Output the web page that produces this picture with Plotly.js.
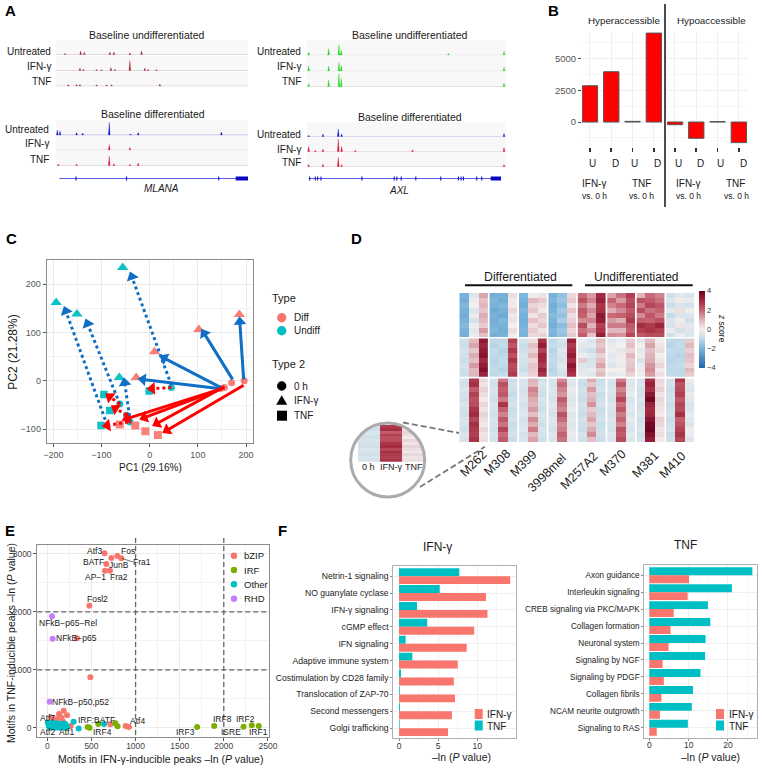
<!DOCTYPE html>
<html><head><meta charset="utf-8">
<script src="https://cdn.plot.ly/plotly-3.0.1.min.js"></script>
<style>html,body{margin:0;padding:0;background:#fff}#c{width:762px;height:769px}</style>
</head><body><div id="c"></div>
<script>
// ---------- Panel A: track peaks [position, height] ----------
const mlanaUndiffUntreated=[[195,.12],[242,.35],[253,.25],[330,.25],[342,.25],[390,.18],[425,.35]];
const mlanaUndiffIfn=[[240,.25],[250,.12],[290,.1],[305,.1],[333,.3],[345,.12],[390,1.0],[435,.25],[445,.12],[470,.1]];
const mlanaUndiffTnf=[[205,.15],[230,.15],[240,.15],[290,.12],[320,.12],[335,.12],[480,.2]];
const mlanaDiffUntreated=[[172,.5],[180,.4],[230,.25],[248,.2],[328,1.25],[392,.1],[415,.25],[665,.3]];
const mlanaDiffIfn=[[328,.55],[390,.25]];
const mlanaDiffTnf=[[175,.15],[230,.15],[328,.95],[342,.2],[390,.12],[415,.25]];
const axlUndiffUntreated=[[925,.3],[985,.65],[1016,1.05],[1023,.5],[1345,.15],[1512,.4]];
const axlUndiffIfn=[[925,.5],[985,.5],[1016,.9],[1023,.6],[1512,.4]];
const axlUndiffTnf=[[925,.3],[985,.65],[1016,1.3],[1023,.8],[1512,.35]];
const axlDiffUntreated=[[925,.12],[968,.25],[1014,.75],[1024,.25],[1512,.3]];
const axlDiffIfn=[[925,.5],[945,.12],[968,.25],[1014,1.25],[1024,.5],[1065,.12],[1237,.18],[1512,.4]];
const axlDiffTnf=[[925,.2],[968,.25],[1014,.9],[1024,.2],[1512,.2]];
const mlanaExons=[228,380,657];
const axlExons=[928,945,952,962,1085,1182,1190,1203,1247,1322,1375,1383,1390,1430,1445];
// ---------- Panel B ----------
const hyperValues=[2850,3950,50,6990];
const hypoValues=[-210,-1280,30,-1620];
// ---------- Panel C ----------
const diffTriX=[186,102,10,-28], diffTriY=[137,106,60,7];
const undiffTriX=[-56,-194,-151,-63], undiffTriY=[234,162,138,7];
const diffCircX=[196,170,155,147], diffCircY=[0,-4,-14,-16];
const undiffCircX=[45,-62,-48,-41], undiffCircY=[-14,-48,-71,-85];
const diffSqX=[-62,-30,-9,17], diffSqY=[-90,-92,-104,-112];
const undiffSqX=[-1,-95,-83,-101], undiffSqY=[-21,-28,-61,-92];
const blueSolid=[[195,3,187,122],[172,3,113,98],[152,-16,30,47],[143,-16,-14,3]];
const blueDotted=[[45,-9,-37,215],[-88,-92,-174,144],[-62,-48,-129,118],[-40,-85,-52,-4]];
const redSolid=[[195,-9,36,-102],[155,-12,15,-88],[155,-14,-11,-76],[150,-16,-47,-78]];
const redDotted=[[45,-14,5,-16],[-62,-48,-83,-33],[-48,-71,-71,-57],[-45,-85,-88,-92]];
// ---------- Panel D ----------
const samples=["M262","M308","M399","3998mel","M257A2","M370","M381","M410"];
const sampleCentres=[[473,464],[497,463.3],[523,464],[547,473],[579,471],[612.7,462.7],[645,465],[672.7,465]];
const heatCluster1=[
[-2.0,-0.4,1.2,-2.1,-2.0,0.3,-1.9,-0.1,0.2,-2.0,-1.6,0.4,1.9,1.3,3.0,1.2,1.8,2.6,1.0,1.9,1.6,-0.7,-0.3,-0.5],
[-2.1,-0.1,0.8,-1.9,-2.1,-0.1,-2.0,0.9,0.6,-1.9,-1.5,0.6,2.3,1.6,3.2,2.0,1.3,2.3,2.3,2.1,1.8,-0.4,0.1,-0.2],
[-1.9,0.0,1.0,-2.0,-1.9,0.1,-2.1,0.4,0.3,-2.1,-1.7,0.2,1.7,1.1,2.8,1.6,1.9,2.5,1.7,2.5,2.2,-0.8,-0.5,-0.6],
[-2.0,-0.5,0.7,-2.2,-2.0,0.4,-1.9,0.7,0.1,-2.0,-1.4,0.7,2.2,1.5,2.9,1.1,1.5,2.1,2.4,1.8,2.0,-0.3,0.3,-0.1],
[-2.1,-0.2,1.1,-2.0,-2.2,-0.2,-2.0,0.2,0.6,-1.8,-1.6,0.3,2.0,1.2,3.4,1.9,2.0,2.4,1.5,2.2,1.7,-0.9,-0.4,-0.4],
[-2.0,-0.6,0.9,-2.1,-1.9,0.2,-2.1,0.8,0.4,-2.0,-1.3,0.5,1.5,1.6,3.3,1.3,1.1,2.7,2.1,2.0,2.3,-0.5,-0.1,-0.7],
[-1.8,-0.1,0.6,-2.0,-2.0,0.0,-2.0,0.3,0.7,-2.1,-1.7,0.8,2.4,1.0,2.6,1.7,1.7,2.2,3.0,2.7,3.1,-0.6,0.2,-0.3],
[-2.0,-0.3,1.3,-1.9,-2.1,0.3,-1.9,0.6,0.2,-1.9,-1.5,0.4,1.8,1.5,2.8,0.9,0.9,2.0,2.6,2.8,2.6,-0.2,-0.6,-0.4],
[-2.1,-0.2,0.8,-2.1,-2.0,-0.1,-2.0,0.4,0.5,-2.0,-1.6,0.6,2.1,0.8,3.3,1.5,1.4,2.5,2.2,2.4,2.4,-0.7,-0.2,-0.5]];
const heatCluster2=[
[-0.7,0.9,3.4,-1.0,-1.0,2.6,-0.6,0.3,2.9,-1.0,-0.6,3.2,-0.2,-0.5,0.9,-0.4,-0.2,0.6,-0.4,0.9,0.1,-1.0,-1.0,0.6],
[-0.8,1.2,3.1,-1.1,-0.9,2.2,-0.8,0.8,3.3,-0.9,-0.7,2.7,-0.3,-0.3,0.7,-0.2,0.0,0.8,0.0,1.2,0.2,-1.1,-0.9,0.9],
[-0.6,0.7,3.3,-0.9,-1.1,2.7,-0.7,0.5,2.6,-1.1,-0.4,3.0,-0.5,-0.7,1.0,-0.1,-0.3,0.4,-0.3,0.8,0.3,-0.9,-1.0,0.5],
[-0.7,1.1,3.5,-1.0,-1.0,2.3,-0.5,0.9,3.1,-1.0,-0.5,3.3,-0.1,-0.4,0.5,-0.3,0.1,0.9,0.1,1.0,0.0,-1.0,-1.1,0.8],
[-0.8,0.8,3.0,-1.1,-0.9,2.8,-0.6,0.4,3.0,-0.9,-0.6,2.9,0.6,-0.6,0.8,-0.2,-0.1,0.6,-0.5,1.1,0.2,-1.1,-1.0,0.7],
[-0.6,1.3,3.3,-1.0,-1.0,2.4,-0.7,0.7,2.7,-1.0,-0.3,3.4,-0.4,-0.5,1.2,-0.4,-0.2,0.7,-0.2,1.4,0.4,-1.0,-0.9,0.4],
[-0.7,0.9,3.6,-0.9,-1.1,2.5,-0.8,0.6,3.2,-1.1,-0.5,3.1,-0.3,-0.2,0.6,0.0,0.0,0.8,0.1,1.5,0.1,-1.0,-1.0,0.9],
[-0.8,1.0,3.2,-1.0,-0.9,2.7,-0.5,0.5,2.8,-1.0,-0.7,2.8,-0.2,-0.4,0.9,-0.3,-0.2,0.5,-0.1,1.3,0.3,-0.9,-1.0,0.6]];
const heatCluster3=[
[-0.6,2.7,0.4,-0.6,1.7,-0.8,-0.5,1.0,-0.7,-0.5,1.5,-0.3,-0.7,1.1,-0.8,-0.5,1.7,-0.4,-0.6,2.9,0.4,-0.7,2.8,-0.1],
[-0.7,2.9,0.2,-0.7,2.3,-0.6,-0.4,0.9,-0.5,-0.6,1.9,-0.4,-0.8,0.7,-0.7,-0.6,2.2,-0.5,-0.5,3.2,0.3,-0.6,2.3,-0.3],
[-0.5,2.1,0.5,-0.5,2.0,-0.7,-0.6,1.6,-0.6,-0.4,1.6,-0.2,-0.6,1.3,-0.6,-0.4,1.6,-0.3,-0.7,2.9,0.5,-0.8,2.4,-0.4],
[-0.6,2.6,0.3,-0.6,2.2,-0.9,-0.5,1.4,-0.7,-0.5,1.4,-0.3,-0.7,0.8,-0.8,-0.5,1.9,-0.2,-0.6,3.4,0.2,-0.7,2.6,-0.2],
[-0.7,2.3,0.1,-0.7,1.7,-0.7,-0.4,1.1,-0.5,-0.6,2.1,-0.4,-0.8,1.0,-0.7,-0.6,2.5,-0.5,-0.5,3.8,0.4,-0.6,2.2,-0.3],
[-0.5,2.4,0.4,-0.5,2.8,-0.6,-0.6,1.0,-0.6,-0.4,1.8,-0.3,-0.6,1.4,-0.6,-0.4,1.8,-0.4,-0.7,3.2,0.3,-0.8,2.5,-0.5],
[-0.6,2.8,0.2,-0.6,2.0,-0.8,-0.5,1.3,-0.7,-0.5,1.6,-0.2,-0.7,0.6,-0.8,-0.5,2.2,-0.3,-0.6,3.0,0.2,-0.7,2.4,-0.4],
[-0.7,3.0,0.5,-0.7,1.6,-0.7,-0.4,0.8,-0.5,-0.6,2.3,-0.4,-0.8,0.9,-0.7,-0.6,1.7,-0.5,-0.5,3.1,0.1,-0.6,2.9,-0.2],
[-0.5,2.5,0.3,-0.5,2.2,-0.6,-0.6,1.5,-0.6,-0.4,1.9,-0.3,-0.6,1.2,-0.6,-0.4,2.0,-0.2,-0.7,3.5,0.5,-0.8,2.1,-0.3],
[-0.6,2.9,0.1,-0.6,1.8,-0.8,-0.5,1.1,-0.7,-0.5,1.5,-0.4,-0.7,0.7,-0.8,-0.5,1.6,-0.4,-0.6,3.8,0.4,-0.7,2.3,-0.5],
[-0.7,2.7,0.4,-0.7,2.5,-0.7,-0.4,1.7,-0.5,-0.6,1.7,-0.3,-0.8,1.1,-0.7,-0.6,2.3,-0.5,-0.5,3.9,0.2,-0.6,2.6,-0.1],
[-0.5,2.6,0.2,-0.5,1.9,-0.6,-0.6,0.9,-0.6,-0.4,2.0,-0.2,-0.6,1.5,-0.6,-0.4,2.1,-0.3,-0.7,3.6,0.3,-0.8,2.8,-0.2],
[-0.6,2.8,0.3,-0.6,2.1,-0.8,-0.5,1.2,-0.7,-0.5,1.8,-0.3,-0.7,0.8,-0.8,-0.5,2.4,-0.4,-0.6,3.3,0.1,-0.7,2.5,-0.4]];
const heatRows=[...heatCluster1,...heatCluster2,...heatCluster3];
const insetRows=heatCluster3.map(r=>r.slice(0,3));
const heatColors=[[0,'#2166ac'],[.25,'#78b2d8'],[.375,'#bfd9e9'],[.5,'#f3efef'],[.625,'#dfb4ba'],[.75,'#c5626f'],[.875,'#a32a40'],[1,'#67001f']];
// ---------- Panel E ----------
const bzipX=[649,725,793,838,668,653,710,476,336,487,185,132,223,45,158,109,264,713,887,925,80,130,175,95];
const bzipY=[3011,2930,2965,2925,2827,2711,2711,2107,1543,869,294,236,213,178,178,150,29,58,29,12,120,60,110,90];
const irfX=[1698,1891,2223,2317,2396,577,770,796,457,479];
const irfY=[12,29,17,40,29,63,75,23,12,0];
const otherX=[5,15,25,30,40,50,60,70,80,90,100,110,120,130,140,150,160,170,180,190,200,210,225,20,45,65,85,105,125,145,165,185,205,298,355,642];
const otherY=[90,40,70,10,55,20,85,35,5,60,25,75,15,45,65,10,30,50,20,5,70,40,15,15,5,10,30,5,30,0,70,50,5,104,-12,63];
const rhdX=[53,60,26], rhdY=[1923,1537,449];
const motifLabels=[["Atf3",94.3,550.7],["Fos",127.7,550.7],["BATF",93,562.3],["JunB",119.3,565.3],["Fra1",141.7,562.3],["AP−1",95,577.3],["Fra2",119,577.3],["Fosl2",97.7,599],["NFkB−p65−Rel",67.7,623],["NFkB−p65",76,638],["NFkB−p50,p52",80.3,702],["Atf7",47.3,718],["IRF:BATF",96.7,719.7],["Atf4",137,721],["IRF8",222.7,719],["IRF2",245.3,719],["IRF3",185.7,731.7],["ISRE",231,732],["IRF1",258.3,731.7],["IRF4",102,731.7],["Atf2",47.3,732],["Atf1",66.3,732]];
// ---------- Panel F ----------
const ifnPathways=["Netrin-1 signaling","NO guanylate cyclase","IFN-γ signaling","cGMP effect","IFN signaling","Adaptive immune system","Costimulation by CD28 family","Translocation of ZAP-70","Second messengers","Golgi trafficking"];
const ifnPathIfn=[14.2,11.1,11.3,9.6,8.65,7.5,7.0,7.15,6.75,6.25];
const ifnPathTnf=[7.7,5.2,2.3,3.6,0.85,1.7,0.25,0.1,0.12,0.08];
const tnfPathways=["Axon guidance","Interleukin signaling","CREB signaling via PKC/MAPK","Collagen formation","Neuronal system","Signaling by NGF","Signaling by PDGF","Collagen fibrils","NCAM neurite outgrowth","Signaling to RAS"];
const tnfPathIfn=[10.1,9.75,6.2,5.4,4.9,3.4,3.7,3.1,2.7,1.9];
const tnfPathTnf=[26.2,21,14.9,15.5,14.3,14.2,13,11.1,10.8,9.8];

// ---------- helpers ----------
const W=762,H=769;
const FONT='"Liberation Sans",Arial,sans-serif';
const px=x=>x/W, py=y=>1-y/H;
const traces=[],annotations=[],shapes=[],layout={};
let ax=0;
function axes(x0,x1,y0,y1,xo,yo){ax++;const s=ax===1?'':ax;
  layout['xaxis'+s]=Object.assign({domain:[px(x0),px(x1)],anchor:'y'+s,showgrid:false,zeroline:false,showticklabels:false,ticks:'',fixedrange:true,automargin:false},xo);
  layout['yaxis'+s]=Object.assign({domain:[py(y1),py(y0)],anchor:'x'+s,showgrid:false,zeroline:false,showticklabels:false,ticks:'',fixedrange:true,automargin:false},yo);
  return {xaxis:'x'+s,yaxis:'y'+s};}
function T(x,y,text,size,anchor,o){o=o||{};annotations.push({xref:'paper',yref:'paper',x:px(x),y:py(y),text,showarrow:false,xanchor:anchor||'center',yanchor:'middle',textangle:o.angle||0,
  font:{size,color:o.color||'#1a1a1a',family:o.family||FONT},borderpad:0});}
function L(x0,y0,x1,y1,color,width,dash){shapes.push({type:'line',xref:'paper',yref:'paper',x0:px(x0),y0:py(y0),x1:px(x1),y1:py(y1),line:{color,width,dash:dash||'solid'}});}
function R(x0,y0,x1,y1,fill,layer){shapes.push({type:'rect',xref:'paper',yref:'paper',x0:px(x0),y0:py(y0),x1:px(x1),y1:py(y1),fillcolor:fill,line:{width:0},layer:layer||'above'});}
function C(cx,cy,r,fill,lineColor,lw){shapes.push({type:'circle',xref:'paper',yref:'paper',x0:px(cx-r),y0:py(cy-r),x1:px(cx+r),y1:py(cy+r),fillcolor:fill,line:{color:lineColor||fill,width:lw||0}});}
function triKey(cx,cy,s,fill){shapes.push({type:'path',xref:'paper',yref:'paper',path:`M${px(cx-s)},${py(cy+s*.85)} L${px(cx+s)},${py(cy+s*.85)} L${px(cx)},${py(cy-s*.85)} Z`,fillcolor:fill,line:{width:0}});}

// ---------- A ----------
function track(x0,x1,baseline,range,peaks,color,baseColor){
  R(x0,baseline-14.5,x1,baseline+.5,'#f8f8f8','below');
  const a=axes(x0,x1,baseline-14.5,baseline+.5,{range},{range:[-.05,1.45]});
  traces.push({...a,type:'scatter',mode:'lines',x:range,y:[0,0],line:{color:baseColor,width:.8},hoverinfo:'skip'});
  const xs=[],ys=[];const w=(range[1]-range[0])*.0045;
  peaks.forEach(p=>{xs.push(p[0]-w,p[0],p[0]+w,p[0]-w,null);ys.push(0,p[1],0,0,null);});
  traces.push({...a,type:'scatter',mode:'lines',x:xs,y:ys,fill:'toself',fillcolor:color,line:{color,width:.3},hoverinfo:'skip'});
}
const LR=[168,745],RR=[920,1518];
const dred='#9a2230',red2='#d8103c',blue='#1010c8',green='#20d820';
const paleR='#dcd2d3';
track(56,248,54.5,LR,mlanaUndiffUntreated,dred,paleR);
track(56,248,70.5,LR,mlanaUndiffIfn,dred,paleR);
track(56,248,86,LR,mlanaUndiffTnf,dred,paleR);
track(56,248,135,LR,mlanaDiffUntreated,blue,'#a8a8ee');
track(56,248,150,LR,mlanaDiffIfn,red2,'#e0d4d6');
track(56,248,165.5,LR,mlanaDiffTnf,red2,'#e0d4d6');
track(307,506,55,RR,axlUndiffUntreated,green,'#dedede');
track(307,506,71,RR,axlUndiffIfn,green,'#dedede');
track(307,506,86.5,RR,axlUndiffTnf,green,'#dedede');
track(307,506,136.5,RR,axlDiffUntreated,blue,'#d0d0f2');
track(307,506,151.5,RR,axlDiffIfn,red2,'#e8d8da');
track(307,506,166.5,RR,axlDiffTnf,red2,'#e8d8da');
function gene(x0,x1,range,from,to,ex,thick){
  const a=axes(x0,x1,172,185,{range},{range:[-1,1]});
  traces.push({...a,type:'scatter',mode:'lines',x:[from,to],y:[0,0],line:{color:'#3030d0',width:.8},hoverinfo:'skip'});
  traces.push({...a,type:'scatter',mode:'markers',x:ex,y:ex.map(()=>0),marker:{symbol:'line-ns',size:3,line:{color:'#1515c8',width:1.1}},hoverinfo:'skip'});
  traces.push({...a,type:'scatter',mode:'lines',x:thick,y:[0,0],line:{color:'#0808c0',width:4},hoverinfo:'skip'});
}
gene(56,248,LR,178,745,mlanaExons,[708,745]);
gene(307,506,RR,925,1503,axlExons,[1472,1503]);
T(10,10,'<b>A</b>',15,'center',{color:'#000'});
T(147.3,35,'Baseline undifferentiated',10.5,'center');T(410,35,'Baseline undifferentiated',10.5,'center');
T(152.7,114.5,'Baseline differentiated',10.5,'center');T(410,117,'Baseline differentiated',10.5,'center');
[['Untreated',52],['IFN-γ',66.7],['TNF',81.3]].forEach(r=>{T(51.5,r[1],r[0],10,'right');T(301.5,r[1],r[0],10,'right');});
[['Untreated',129.3],['IFN-γ',143.3],['TNF',159.3]].forEach(r=>T(50,r[1],r[0],10,'right'));
[['Untreated',134.3],['IFN-γ',149.3],['TNF',162.7]].forEach(r=>T(301.5,r[1],r[0],10,'right'));
T(161,188.5,'<i>MLANA</i>',10);T(399.3,190,'<i>AXL</i>',10);

// ---------- B ----------
const bx=[1,2,3,4];
const byAxis=lab=>({range:[-1965,7154],tickvals:[0,2500,5000],ticktext:['0','2500','5000'],showgrid:true,gridcolor:'#eeeeee',gridwidth:1,minor:{dtick:1250,showgrid:true,gridcolor:'#f5f5f5',gridwidth:1},
   showticklabels:lab,ticks:lab?'outside':'',ticklen:3,tickcolor:'#444',tickwidth:1,tickfont:{size:9.5,color:'#555',family:FONT}});
const bxAxis={range:[.625,4.43],tickvals:bx,showgrid:true,gridcolor:'#eeeeee',ticks:'outside',ticklen:4,tickwidth:1.6,tickcolor:'#333'};
let a=axes(582,663,31,147,{...bxAxis},byAxis(true));
traces.push({...a,type:'bar',x:bx,y:hyperValues,width:.72,marker:{color:'#ff0000',line:{color:'#555',width:1}},hoverinfo:'skip'});
a=axes(667,748,31,147,{...bxAxis},byAxis(false));
traces.push({...a,type:'bar',x:bx,y:hypoValues,width:.72,marker:{color:'#ff0000',line:{color:'#555',width:1}},hoverinfo:'skip'});
L(665,4,665,207,'#111',1.5);
T(553,10,'<b>B</b>',15,'center',{color:'#000'});
T(624,21,'Hyperaccessible',9.8);T(711,20,'Hypoaccessible',9.8);
[[592,'U'],[615,'D'],[634.7,'U'],[657,'D'],[678,'U'],[700,'D'],[720,'U'],[743,'D']].forEach(u=>T(u[0],163,u[1],10));
[[594,'IFN-γ'],[641,'TNF'],[688,'IFN-γ'],[735,'TNF']].forEach(u=>T(u[0],183.5,u[1],10));
[594,641,688,736].forEach(x=>T(x,196.5,'vs. 0 h',8.5));

// ---------- C ----------
const gridC={showgrid:true,gridcolor:'#ebebeb',gridwidth:1,showline:true,linecolor:'#8c8c8c',linewidth:1,mirror:true,ticks:'outside',ticklen:3,tickcolor:'#555',showticklabels:true,tickfont:{size:9,color:'#555',family:FONT}};
a=axes(46.7,253.3,260,443.3,{...gridC,range:[-213.7,215],tickvals:[-200,-100,0,100,200],minor:{dtick:50,showgrid:true,gridcolor:'#f2f2f2'}},{...gridC,range:[-129,249.6],tickvals:[-100,0,100,200],minor:{dtick:50,showgrid:true,gridcolor:'#f2f2f2'}});
const DIFF='#F8766D',UND='#00BFC4';
function pts(x,y,col,sym,size,o){traces.push({...a,type:'scatter',mode:'markers',x,y,marker:{color:col,symbol:sym,size,opacity:o||.95},hoverinfo:'skip'});}
pts(diffCircX,diffCircY,DIFF,'circle',7);pts(undiffCircX,undiffCircY,UND,'circle',7);
pts(diffSqX,diffSqY,DIFF,'square',8,.9);pts(undiffSqX,undiffSqY,UND,'square',7.5);
pts(diffTriX,diffTriY,DIFF,'triangle-up',10);pts(undiffTriX,undiffTriY,UND,'triangle-up',10);
function arrows(list,col,dash){list.forEach(s=>{traces.push({...a,type:'scatter',mode:'lines+markers',x:[s[0],s[2]],y:[s[1],s[3]],
   line:{color:col,width:3,dash},marker:{symbol:'triangle-up',size:[0,11],opacity:1,color:col,angleref:'previous',line:{width:0}},hoverinfo:'skip'});});}
arrows(blueDotted,'#0f6fc6','dot');arrows(redDotted,'#ff0000','dot');arrows(blueSolid,'#0f6fc6','solid');arrows(redSolid,'#ff0000','solid');
T(11,239,'<b>C</b>',15,'center',{color:'#000'});
T(150,467,'PC1 (29.16%)',10);T(12.7,352,'PC2 (21.28%)',12,'center',{angle:-90});
T(270.7,298,'Type',11,'left');T(270.7,364,'Type 2',11,'left');
C(281.7,317.7,4.7,DIFF);C(281.7,330.7,4.7,UND);T(292.7,317.7,'Diff',10,'left');T(292.7,330.7,'Undiff',10,'left');
C(281.7,386,4.7,'#000');triKey(281.7,400,5.5,'#000');R(277,410.7,287,420.7,'#000');
T(292.7,386,'0 h',10,'left');T(292.7,400,'IFN-γ',10,'left');T(292.7,415.7,'TNF',10,'left');

// ---------- D ----------
const heatX=Array.from({length:25},(_,i)=>i), heatY=Array.from({length:heatRows.length+1},(_,i)=>i);
a=axes(459.3,694.7,293,442.3,{range:[0,24]},{range:[30,0]});
traces.push({...a,type:'heatmap',x:heatX,y:heatY,z:heatRows,zmin:-4,zmax:4,colorscale:heatColors,hoverinfo:'skip',
  colorbar:{x:px(699),xanchor:'left',y:py(329.3),yanchor:'middle',lenmode:'pixels',len:76.7,thicknessmode:'pixels',thickness:6,outlinewidth:0,ticks:'',tickvals:[-4,-2,0,2,4],ticktext:['−4','−2','0','2','4'],tickfont:{size:7.5,color:'#333',family:FONT},xpad:0,ypad:0}});
for(let k=1;k<8;k++)shapes.push({type:'line',xref:a.xaxis,yref:a.yaxis,x0:3*k,x1:3*k,y0:0,y1:30,line:{color:'#fff',width:1.7}});
[9,17].forEach(r=>shapes.push({type:'line',xref:a.xaxis,yref:a.yaxis,x0:0,x1:24,y0:r,y1:r,line:{color:'#fff',width:1.6}}));
// inset magnifier: heatmap masked to a circle, then the ring
a=axes(357.7,424,425,461.7,{range:[0,3]},{range:[13,0]});
traces.push({...a,type:'heatmap',x:[0,1,2,3],y:Array.from({length:14},(_,i)=>i),z:insetRows,zmin:-4,zmax:4,colorscale:heatColors,showscale:false,hoverinfo:'skip'});
const ringX=387.7,ringY=460,ringR=37;
{let p=`M${px(ringX-ringR-3)},${py(ringY-ringR-3)} L${px(ringX+ringR+3)},${py(ringY-ringR-3)} L${px(ringX+ringR+3)},${py(ringY+ringR+3)} L${px(ringX-ringR-3)},${py(ringY+ringR+3)} Z `;
 for(let i=0;i<=60;i++){const t=i/60*2*Math.PI;p+=(i?'L':'M')+px(ringX+ringR*Math.cos(t))+','+py(ringY+ringR*Math.sin(t))+' ';}
 shapes.push({type:'path',xref:'paper',yref:'paper',path:p+'Z',fillcolor:'#fff',fillrule:'evenodd',line:{width:0}});}
shapes.push({type:'circle',xref:'paper',yref:'paper',x0:px(ringX-ringR),y0:py(ringY-ringR),x1:px(ringX+ringR),y1:py(ringY+ringR),line:{color:'#ababab',width:3}});
L(403,422.5,459,433,'#777',1.8,'6px,3px');L(420,487,485,446.7,'#777',1.8,'6px,3px');
T(356.7,239,'<b>D</b>',15,'center',{color:'#000'});
L(465,285.3,572.3,285.3,'#111',2);L(585,285.3,692.7,285.3,'#111',2);
T(520.3,277.3,'Differentiated',12.3);T(636.7,277.3,'Undifferentiated',12);
samples.forEach((s,i)=>T(sampleCentres[i][0],sampleCentres[i][1],s,12.5,'center',{angle:-45}));
T(722,328,'<i>z</i> score',8.5,'center',{angle:90});
T(368,467,'0 h',9);T(391,467,'IFN-γ',9);T(414,467,'TNF',9);

// ---------- E ----------
const gridE={showgrid:true,gridcolor:'#ebebeb',gridwidth:1,showline:true,linecolor:'#8c8c8c',linewidth:1,mirror:true,ticks:'outside',ticklen:3,tickcolor:'#555',showticklabels:true,tickfont:{size:8.5,color:'#444',family:FONT}};
a=axes(37.3,268.7,545,737.3,{...gridE,ticklabelstandoff:-3,range:[-114,2509],tickvals:[0,500,1000,1500,2000,2500],minor:{dtick:250,showgrid:true,gridcolor:'#f2f2f2'}},{...gridE,range:[-166,3155],tickvals:[0,1000,2000,3000],minor:{dtick:500,showgrid:true,gridcolor:'#f2f2f2'}});
const COLS={bzip:'#F8766D',irf:'#7CAE00',other:'#00BFC4',rhd:'#C77CFF'};
[[bzipX,bzipY,COLS.bzip],[irfX,irfY,COLS.irf],[otherX,otherY,COLS.other],[rhdX,rhdY,COLS.rhd]].forEach(s=>traces.push({...a,type:'scatter',mode:'markers',x:s[0],y:s[1],marker:{color:s[2],size:6},hoverinfo:'skip'}));
[1000,2000].forEach(v=>{
  shapes.push({type:'line',xref:a.xaxis,yref:'paper',x0:v,x1:v,y0:py(538),y1:py(737.3),line:{color:'#666',width:1.3,dash:'5px,3px'}});
  shapes.push({type:'line',xref:'paper',yref:a.yaxis,x0:px(37.3),x1:px(268.7),y0:v,y1:v,line:{color:'#666',width:1.3,dash:'5px,3px'}});});
L(122,558.5,133,562,'#333',.7);
motifLabels.forEach(m=>T(m[1],m[2],m[0],8.5));
T(10,530,'<b>E</b>',15,'center',{color:'#000'});
T(160,759,'Motifs in IFN-γ-inducible peaks –ln (<i>P</i> value)',10.5);
T(11,643,'Motifs in TNF-inducible peaks –ln (<i>P</i> value)',10.5,'center',{angle:-90});
[['bZIP',555.7,COLS.bzip],['IRF',570,COLS.irf],['Other',584.3,COLS.other],['RHD',598.7,COLS.rhd]].forEach(k=>{C(234,k[1],3.2,k[2]);T(242.7,k[1],k[0],9.5,'left');});

// ---------- F ----------
function pathwayBars(x0,x1,y0,y1,range,dtick,cats,tnfV,ifnV,labelSize){
  const f={showgrid:true,gridcolor:'#efefef',showline:true,linecolor:'#b0b0b0',linewidth:1,mirror:true,fixedrange:true};
  const a=axes(x0,x1,y0,y1,{...f,range,dtick,tick0:0,ticks:'outside',ticklen:2,tickcolor:'#888',showticklabels:true,ticklabelstandoff:-3,tickfont:{size:8.5,color:'#333',family:FONT},minor:{dtick:dtick/2,showgrid:true,gridcolor:'#f6f6f6'}},
   {...f,type:'category',categoryorder:'array',categoryarray:cats,range:[9.6,-.6],ticks:'outside',ticklen:2,tickcolor:'#888',showticklabels:true,tickfont:{size:labelSize,color:'#222',family:FONT}});
  traces.push({...a,type:'bar',orientation:'h',y:cats,x:tnfV,marker:{color:'#00BFC4'},hoverinfo:'skip'});
  traces.push({...a,type:'bar',orientation:'h',y:cats,x:ifnV,marker:{color:'#F8766D'},hoverinfo:'skip'});
}
pathwayBars(393.3,515.7,566,738.3,[-.73,14.9],5,ifnPathways,ifnPathTnf,ifnPathIfn,8.6);
pathwayBars(644.3,756.7,565,738,[-1.27,27.3],10,tnfPathways,tnfPathTnf,tnfPathIfn,8.2);
T(282.7,530,'<b>F</b>',15,'center',{color:'#000'});
T(437,547,'IFN-γ',12);T(685.7,545,'TNF',12);
T(461,757,'–ln (<i>P</i> value)',10.5);T(710,757,'–ln (<i>P</i> value)',10.5);
[[478.7,485.7],[720,728]].forEach(g=>{R(g[0]-4,709,g[0]+4,719,'#F8766D');R(g[0]-4,720.5,g[0]+4,730.5,'#00BFC4');T(g[1],714,'IFN-γ',10,'left');T(g[1],726,'TNF',10,'left');});

Plotly.newPlot('c',traces,Object.assign(layout,{width:W,height:H,margin:{l:0,r:0,t:0,b:0},paper_bgcolor:'#fff',plot_bgcolor:'rgba(0,0,0,0)',showlegend:false,barmode:'group',bargap:.06,bargroupgap:0,font:{family:FONT},annotations,shapes}),{displayModeBar:false,staticPlot:true});
</script>
</body></html>
